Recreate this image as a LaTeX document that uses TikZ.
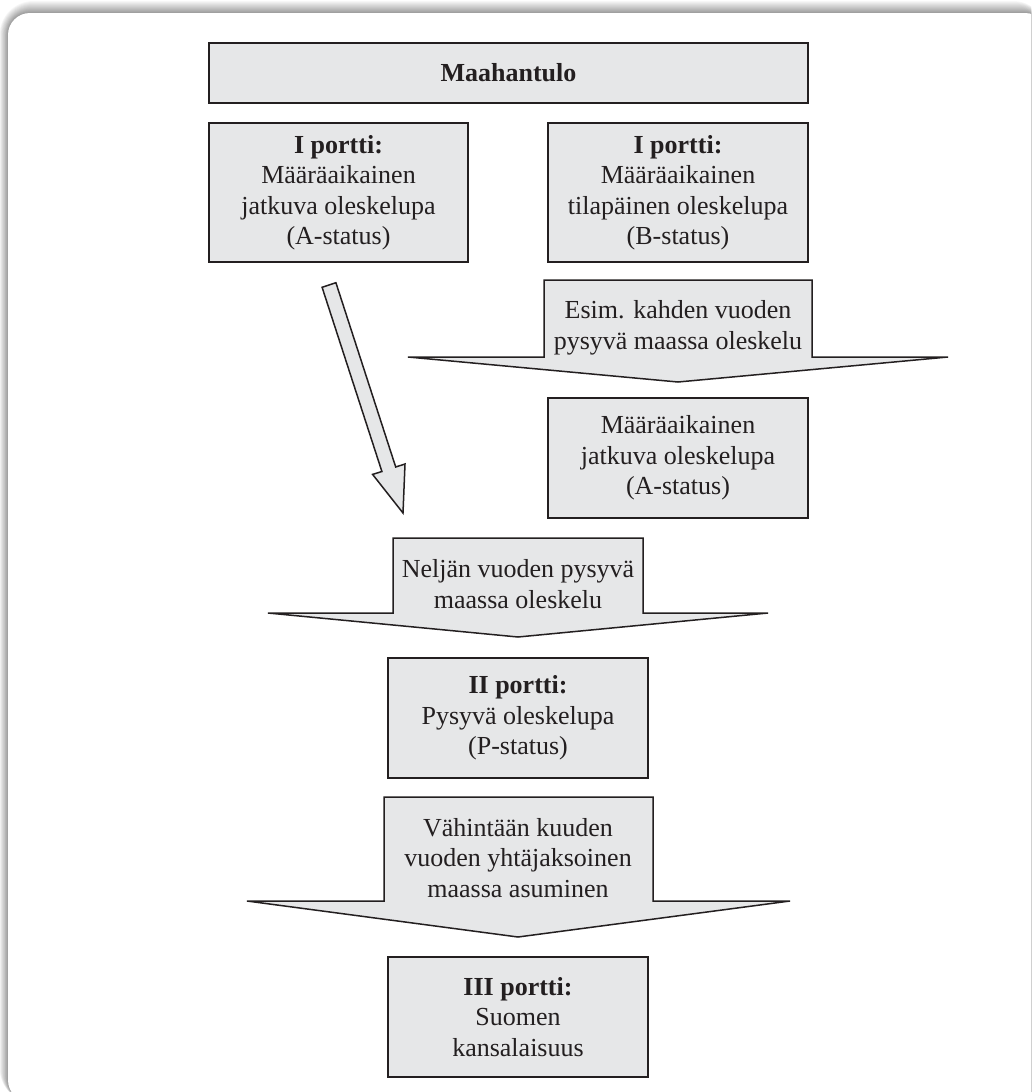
\documentclass[tikz,border=0pt]{standalone}
\usepackage{fontspec}
\setmainfont{Liberation Serif}
\usetikzlibrary{calc}
\definecolor{boxfill}{HTML}{E6E7E8}
\definecolor{ink}{HTML}{231F20}
\begin{document}
\begin{tikzpicture}[x=1pt,y=-1pt,
  txt/.style={font=\fontsize{26}{30.5}\selectfont, text=ink, align=center, inner sep=0pt},
  gate/.style={txt, draw=ink, fill=boxfill, line width=1.5pt},
  blockarrow/.style={draw=ink, fill=boxfill, line width=1.5pt, line join=miter}]
\useasboundingbox (0,0) rectangle (1031,1092);

% panel with soft shadow along the top and left edges
\begin{scope}
  \clip (0,0) rectangle (1031,1092);
  \foreach \i in {12,11,...,1}{
    \pgfmathsetmacro\shade{(13-\i)*3.1}
    \fill[black!\shade, rounded corners=22+\i] (8-0.7*\i,13-\i) rectangle (1047,1102);
  }
  \fill[white, rounded corners=22] (8,13) rectangle (1047,1102);
\end{scope}

% boxes
\node[gate, minimum width=599, minimum height=60] (entry) at (508.5,73) {\textbf{Maahantulo}};
\node[gate, minimum width=259, minimum height=139] (gA) at (338.5,192.5)
  {\textbf{I portti:}\\Määräaikainen\\jatkuva oleskelupa\\(A-status)};
\node[gate, minimum width=260, minimum height=139] (gB) at (678,192.5)
  {\textbf{I portti:}\\Määräaikainen\\tilapäinen oleskelupa\\(B-status)};
\node[gate, minimum width=260, minimum height=120] (gA2) at (678,458)
  {Määräaikainen\\jatkuva oleskelupa\\(A-status)};
\node[gate, minimum width=260, minimum height=120] (gII) at (518,718)
  {\textbf{II portti:}\\Pysyvä oleskelupa\\(P-status)};
\node[gate, minimum width=260, minimum height=120] (gIII) at (518,1017)
  {\textbf{III portti:}\\Suomen\\kansalaisuus};

% slanted arrow from the left gate down to the four-year step
\coordinate (sTop) at (329,285);
\coordinate (sTip) at (403,513);
\draw[blockarrow]
  (322.1,287.3) -- (335.9,282.7) -- (395.7,467.0) -- (405.0,464.0)
  -- (sTip) -- (372.6,474.4) -- (381.9,471.5) -- cycle;

% broad downward arrows carrying the conditions
\draw[blockarrow] (544,280) -- (812,280) -- (812,357) -- (948,357)
  -- (678,382) -- (408,357) -- (544,357) -- cycle;
\node[txt] (twoyears) at (678,328) {Esim. kahden vuoden\\pysyvä maassa oleskelu};

\draw[blockarrow] (393,538) -- (643,538) -- (643,613) -- (768,613)
  -- (518,637) -- (268,613) -- (393,613) -- cycle;
\node[txt] (fouryears) at (518,584) {Neljän vuoden pysyvä\\maassa oleskelu};

\draw[blockarrow] (384,797) -- (653,797) -- (653,901) -- (790,901)
  -- (518,937) -- (247,901) -- (384,901) -- cycle;
\node[txt] (sixyears) at (518,858) {Vähintään kuuden\\vuoden yhtäjaksoinen\\maassa asuminen};
\end{tikzpicture}
\end{document}
